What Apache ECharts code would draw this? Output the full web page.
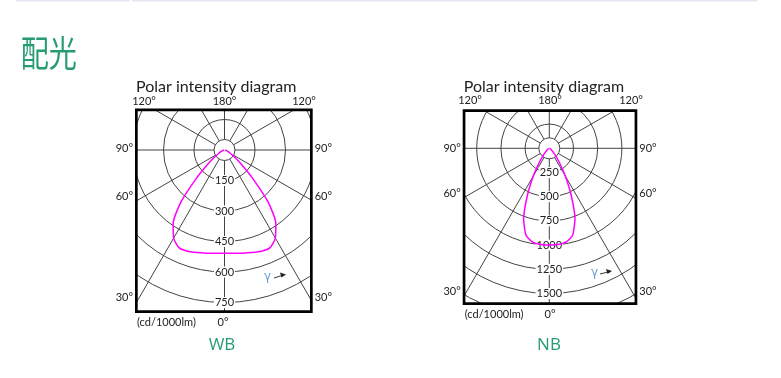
<!DOCTYPE html>
<html>
<head>
<meta charset="utf-8">
<script src="https://cdn.jsdelivr.net/npm/echarts@6.0.0/dist/echarts.min.js"></script>
<style>
  html, body { margin: 0; background: #fff; }
  #chart { width: 781px; height: 378px; }
</style>
</head>
<body>
<div id="chart"></div>
<script>
// gamma (degrees from nadir), same for both sides of the curve
const gammaDeg = [0, 5, 10, 15, 20, 25, 30, 35, 40, 45, 50, 55, 60, 65, 70, 75, 80, 85, 90];
// intensities, cd/1000lm
const wbIntensity = [508, 510, 515, 522, 530, 530, 500, 440, 332, 192, 105, 58, 32, 20, 12, 8, 5, 3, 2];
const nbIntensity = [1000, 998, 985, 930, 775, 535, 330, 185, 100, 60, 38, 25, 15, 10, 6, 4, 2, 1, 0];
// ring labels on the 0° line
const wbRingLabels = [150, 300, 450, 600, 750];
const nbRingLabels = [250, 500, 750, 1000, 1250, 1500];
const sideAngleLabels = ['90°', '60°', '30°'];
const topAngleLabels = ['120°', '180°', '120°'];

const chart = echarts.init(document.getElementById('chart'));

// layout of the two diagrams (pixels)
const wb = { cx: 224.5, cy: 150, R: 183, max: 900, step: 150,
  box: { x0: 135, y0: 108.5, x1: 312.7, y1: 313 },
  sideY: [148.5, 196.5, 297], topY: 101, topX: [144, 224.5, 304],
  bottomY: 322.5, zeroX: 223, nameX: 222, name: 'WB',
  gamma: [267.5, 276.5], arrow: [[274, 278], [286, 274.5]] };
const nb = { cx: 549.3, cy: 148.3, R: 193.6, max: 2000, step: 250,
  box: { x0: 462.7, y0: 109.3, x1: 637.3, y1: 305 },
  sideY: [148, 193.5, 291], topY: 100, topX: [470, 550, 631],
  bottomY: 314, zeroX: 550, nameX: 549, name: 'NB',
  gamma: [594.5, 272.5], arrow: [[600, 274], [612, 271]] };

function curve(values) {
  const right = gammaDeg.slice(1).map((g, i) => [values[i + 1], 360 - g]).reverse();
  const left = gammaDeg.map((g, i) => [values[i], g]);
  return right.concat(left);
}

const labelFont = '11px Lato, "DejaVu Sans", sans-serif';
const green = '#279c70';
const gridColor = '#444';
const graphics = [];

// faint rule at the very top of the page
graphics.push({ type: 'rect', z: 101, shape: { x: 16, y: 0, width: 114, height: 1.5 }, style: { fill: '#e6e8f1' } });
graphics.push({ type: 'rect', z: 101, shape: { x: 132, y: 0, width: 625, height: 1.5 }, style: { fill: '#e6e8f1' } });
graphics.push({ type: 'text', z: 101, x: 17, y: 53, scaleX: 0.78, originX: 17,
  style: { text: '配光', font: '36px "Noto Sans CJK SC"', fill: green, verticalAlign: 'middle' } });

function addDiagram(d) {
  const b = d.box, lw = 2.7, pad = d.R + 6;
  const L = d.cx - pad, T = d.cy - pad, Rt = d.cx + pad, B = d.cy + pad;
  const ix0 = b.x0 + lw / 2, iy0 = b.y0 + lw / 2, ix1 = b.x1 - lw / 2, iy1 = b.y1 - lw / 2;
  // white masks: clip the polar grid to the frame (overlapping, so no seams)
  [[L, T, Rt - L, iy0 - T], [L, iy1, Rt - L, B - iy1], [L, T, ix0 - L, B - T], [ix1, T, Rt - ix1, B - T]]
    .forEach(r => graphics.push({ type: 'rect', z: 100, silent: true,
      shape: { x: Math.floor(r[0]), y: Math.floor(r[1]), width: Math.ceil(r[2]) + 1, height: Math.ceil(r[3]) + 1 },
      style: { fill: '#fff' } }));
  graphics.push({ type: 'rect', z: 101, shape: { x: ix0, y: iy0, width: ix1 - ix0, height: iy1 - iy0 },
    style: { fill: 'none', stroke: '#000', lineWidth: lw } });
  // small circle at the origin
  graphics.push({ type: 'circle', z: 1.5, shape: { cx: d.cx, cy: d.cy, r: 10.5 },
    style: { fill: '#fff', stroke: gridColor, lineWidth: 1 } });

  const txt = (text, x, y, align, font, fill) => graphics.push({ type: 'text', z: 102, x, y,
    style: { text, font: font || labelFont, fill: fill || '#222', align: align || 'center', verticalAlign: 'middle' } });
  txt('Polar intensity diagram', b.x0 + 1, 87, 'left', '16px Lato, sans-serif');
  topAngleLabels.forEach((t, i) => txt(t, d.topX[i], d.topY));
  sideAngleLabels.forEach((t, i) => {
    txt(t, b.x0 - 2, d.sideY[i], 'right');
    txt(t, b.x1 + 2, d.sideY[i], 'left');
  });
  txt('(cd/1000lm)', b.x0 + 2, d.bottomY, 'left');
  txt('0°', d.zeroX, d.bottomY);
  txt(d.name, d.nameX, 345, 'center', '17px "Open Sans", sans-serif', green);
  txt('γ', d.gamma[0], d.gamma[1], 'center', '12px "DejaVu Sans", sans-serif', '#6d9fd6');
  const a = d.arrow;
  graphics.push({ type: 'line', z: 102, shape: { x1: a[0][0], y1: a[0][1], x2: a[1][0] - 4, y2: a[1][1] + 1 },
    style: { stroke: '#222', lineWidth: 0.9 } });
  graphics.push({ type: 'polygon', z: 102,
    shape: { points: [[a[1][0], a[1][1]], [a[1][0] - 6, a[1][1] - 2], [a[1][0] - 4.5, a[1][1] + 3]] },
    style: { fill: '#222' } });
}
addDiagram(wb);
addDiagram(nb);

function angleAxis(i) {
  return { polarIndex: i, type: 'value', min: 0, max: 360, interval: 30, startAngle: 270, clockwise: true, z: 0,
    axisLine: { show: false }, axisTick: { show: false }, axisLabel: { show: false },
    splitLine: { show: true, lineStyle: { color: gridColor, width: 1 } } };
}
function radiusAxis(i, d, labels) {
  return { polarIndex: i, type: 'value', min: 0, max: d.max, interval: d.step, z: 1,
    axisLine: { show: false }, axisTick: { show: false },
    axisLabel: { show: true, margin: 0, align: 'center', verticalAlign: 'middle',
      fontSize: 11, fontFamily: 'Lato, sans-serif', color: '#222',
      backgroundColor: '#fff', padding: [0, 1],
      formatter: v => labels.includes(v) ? String(v) : '' },
    splitLine: { show: true, lineStyle: { color: gridColor, width: 1 } } };
}

chart.setOption({
  animation: false,
  backgroundColor: '#fff',
  polar: [
    { center: [wb.cx, wb.cy], radius: wb.R },
    { center: [nb.cx, nb.cy], radius: nb.R }
  ],
  angleAxis: [angleAxis(0), angleAxis(1)],
  radiusAxis: [radiusAxis(0, wb, wbRingLabels), radiusAxis(1, nb, nbRingLabels)],
  series: [
    { type: 'line', coordinateSystem: 'polar', polarIndex: 0, data: curve(wbIntensity), z: 3,
      showSymbol: false, smooth: 0.2, lineStyle: { color: '#ff00ff', width: 1.5 } },
    { type: 'line', coordinateSystem: 'polar', polarIndex: 1, data: curve(nbIntensity), z: 3,
      showSymbol: false, smooth: 0.2, lineStyle: { color: '#ff00ff', width: 1.5 } }
  ],
  graphic: graphics
});
</script>
</body>
</html>
